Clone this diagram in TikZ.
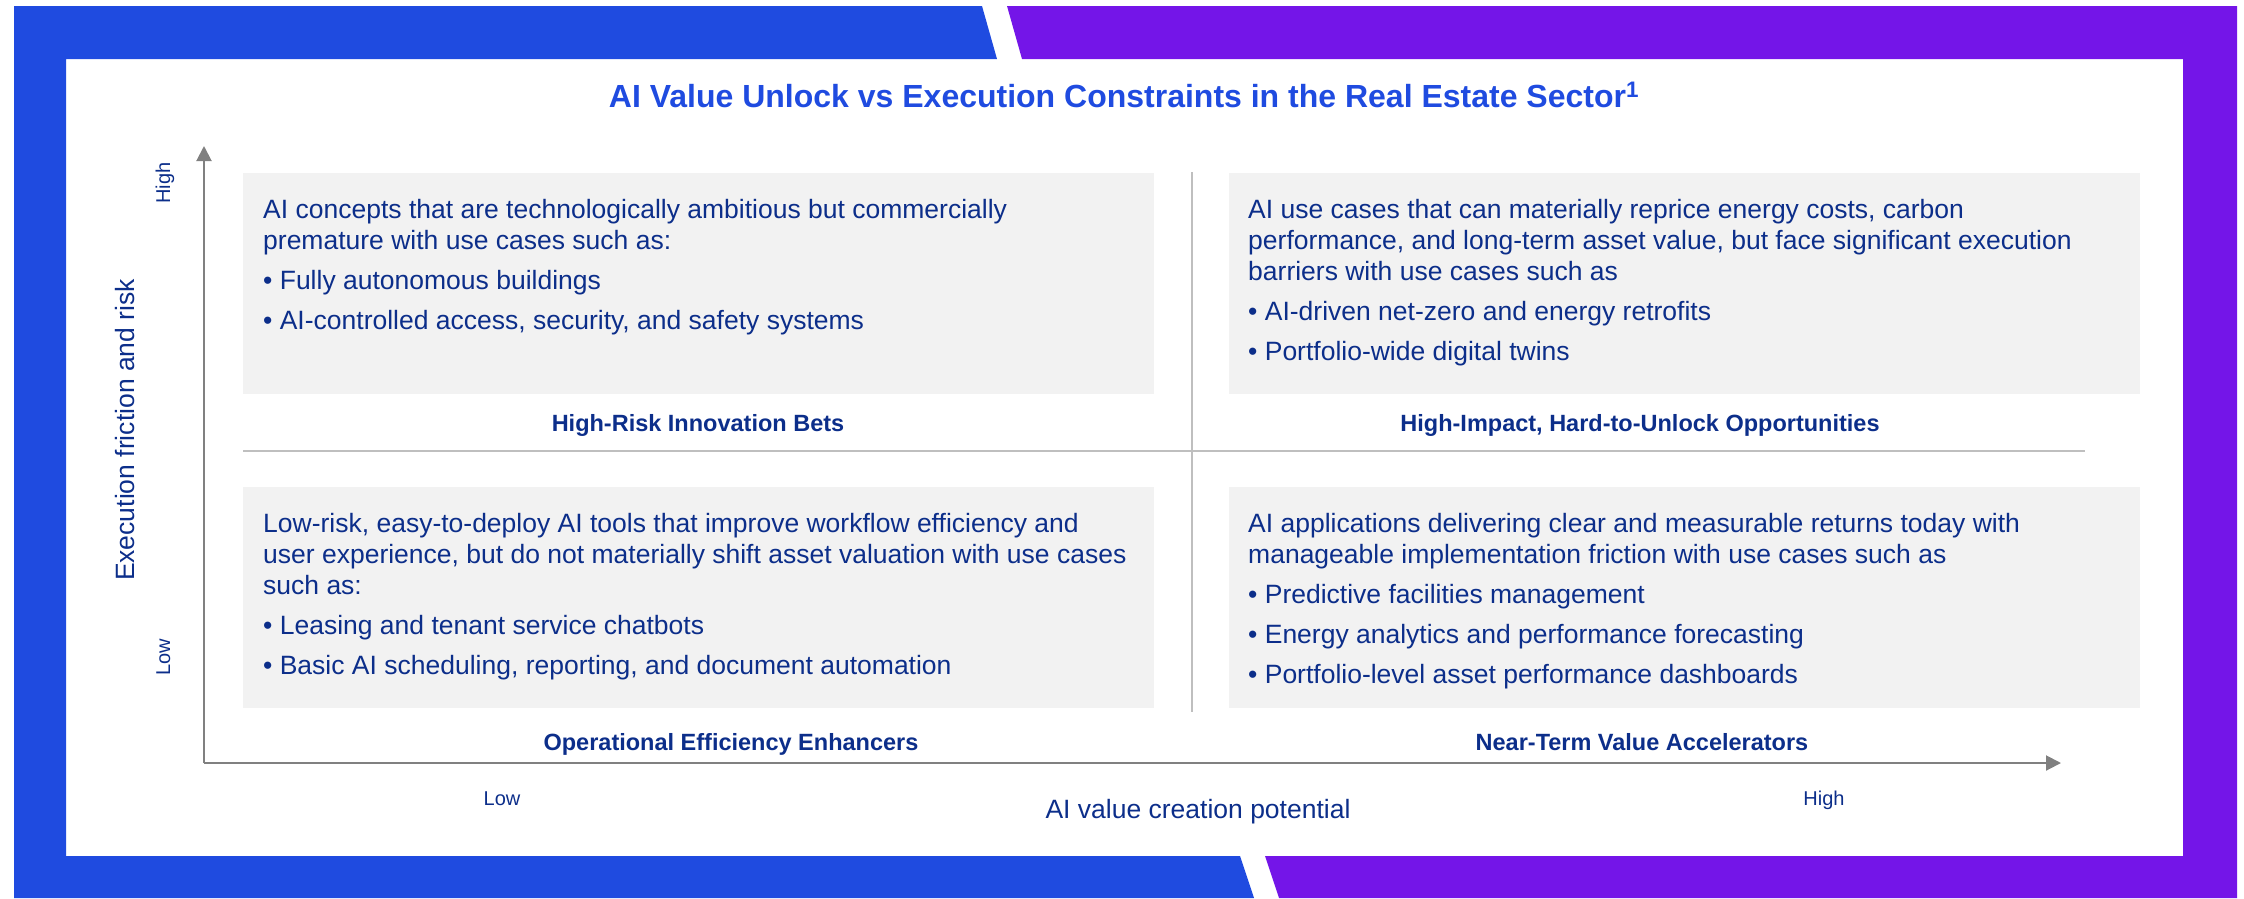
\documentclass[tikz,border=0pt]{standalone}
\usepackage{fontspec}
\setmainfont{Liberation Sans}
\usetikzlibrary{arrows.meta}
\definecolor{azul}{HTML}{1F4BE0}
\definecolor{morado}{HTML}{7415E8}
\definecolor{marino}{HTML}{0C2E8A}
\definecolor{fondo}{HTML}{F2F2F2}
\definecolor{lineagris}{HTML}{BFBFBF}
\definecolor{eje}{HTML}{808080}

\begin{document}
\begin{tikzpicture}[x=1pt,y=-1pt,
    caja/.style={fill=fondo,draw=none,inner sep=0pt,anchor=north west,minimum width=911pt,minimum height=221pt},
    cuerpo/.style={anchor=north west,inner sep=0pt,align=left,text=marino,font=\fontsize{26.5}{31}\selectfont},
    rotulo/.style={anchor=base,inner sep=0pt,text=marino,font=\fontsize{23.5}{27}\selectfont\bfseries},
    nivel/.style={anchor=base,inner sep=0pt,text=marino,font=\fontsize{20}{24}\selectfont},
    ejetxt/.style={anchor=base,inner sep=0pt,text=marino,font=\fontsize{26.5}{31}\selectfont},
    divisor/.style={draw=lineagris,line width=2pt},
    flecha/.style={draw=eje,line width=2pt,-{Triangle[length=15pt,width=15pt]}}]
  \useasboundingbox (0,0) rectangle (2244,898);

  % Marco de color
  \fill[azul] (14,6) -- (982,6) -- (997,59) -- (66,59) -- (66,856) -- (1240,856) -- (1254,898) -- (14,898) -- cycle;
  \fill[morado] (1007,6) -- (2237,6) -- (2237,898) -- (1279,898) -- (1265,856) -- (2183,856) -- (2183,59) -- (1022,59) -- cycle;

  % Titulo
  \node[anchor=base,inner sep=0pt,text=azul,font=\fontsize{32}{36}\selectfont\bfseries] (titulo) at (1124,107)
    {AI Value Unlock vs Execution Constraints in the Real Estate Sector\textsuperscript{1}};

  % Cuadrantes
  \node[caja] (cajaTL) at (243,173) {};
  \node[caja] (cajaTR) at (1229,173) {};
  \node[caja] (cajaBL) at (243,487) {};
  \node[caja] (cajaBR) at (1229,487) {};

  % Lineas divisorias
  \coordinate (vArriba) at (1192,172);
  \coordinate (vAbajo) at (1192,712);
  \coordinate (hIzq) at (243,451);
  \coordinate (hDer) at (2085,451);
  \draw[divisor] (vArriba) -- (vAbajo);
  \draw[divisor] (hIzq) -- (hDer);

  % Ejes
  \coordinate (O) at (204,763);
  \coordinate (yTope) at (204,146);
  \coordinate (xTope) at (2061,763);
  \draw[flecha] (O) -- (yTope);
  \draw[flecha] (O) -- (xTope);

  % Textos de los cuadrantes
  \node[cuerpo] (txtTL) at (263,198) {\rule{0pt}{20pt}AI concepts that are technologically ambitious but commercially\\
    premature with use cases such as:\\[9pt]
    • Fully autonomous buildings\\[9pt]
    • AI-controlled access, security, and safety systems};
  \node[cuerpo] (txtTR) at (1248,198) {\rule{0pt}{20pt}AI use cases that can materially reprice energy costs, carbon\\
    performance, and long-term asset value, but face significant execution\\
    barriers with use cases such as\\[9pt]
    • AI-driven net-zero and energy retrofits\\[9pt]
    • Portfolio-wide digital twins};
  \node[cuerpo] (txtBL) at (263,512) {\rule{0pt}{20pt}Low-risk, easy-to-deploy AI tools that improve workflow efficiency and\\
    user experience, but do not materially shift asset valuation with use cases\\
    such as:\\[9pt]
    • Leasing and tenant service chatbots\\[9pt]
    • Basic AI scheduling, reporting, and document automation};
  \node[cuerpo] (txtBR) at (1248,512) {\rule{0pt}{20pt}AI applications delivering clear and measurable returns today with\\
    manageable implementation friction with use cases such as\\[9pt]
    • Predictive facilities management\\[9pt]
    • Energy analytics and performance forecasting\\[9pt]
    • Portfolio-level asset performance dashboards};

  % Rotulos
  \node[rotulo] (etTL) at (698,431) {High-Risk Innovation Bets};
  \node[rotulo] (etTR) at (1640,431) {High-Impact, Hard-to-Unlock Opportunities};
  \node[rotulo] (etBL) at (731,750) {Operational Efficiency Enhancers};
  \node[rotulo] (etBR) at (1642,750) {Near-Term Value Accelerators};

  % Etiquetas de ejes
  \node[nivel] (xBajo) at (502,805) {Low};
  \node[nivel] (xAlto) at (1824,805) {High};
  \node[ejetxt] (xTitulo) at (1198,818) {AI value creation potential};
  \node[nivel,rotate=90] (yAlto) at (170,183) {High};
  \node[nivel,rotate=90] (yBajo) at (170,657) {Low};
  \node[ejetxt,rotate=90] (yTitulo) at (134,430) {Execution friction and risk};
\end{tikzpicture}
\end{document}
